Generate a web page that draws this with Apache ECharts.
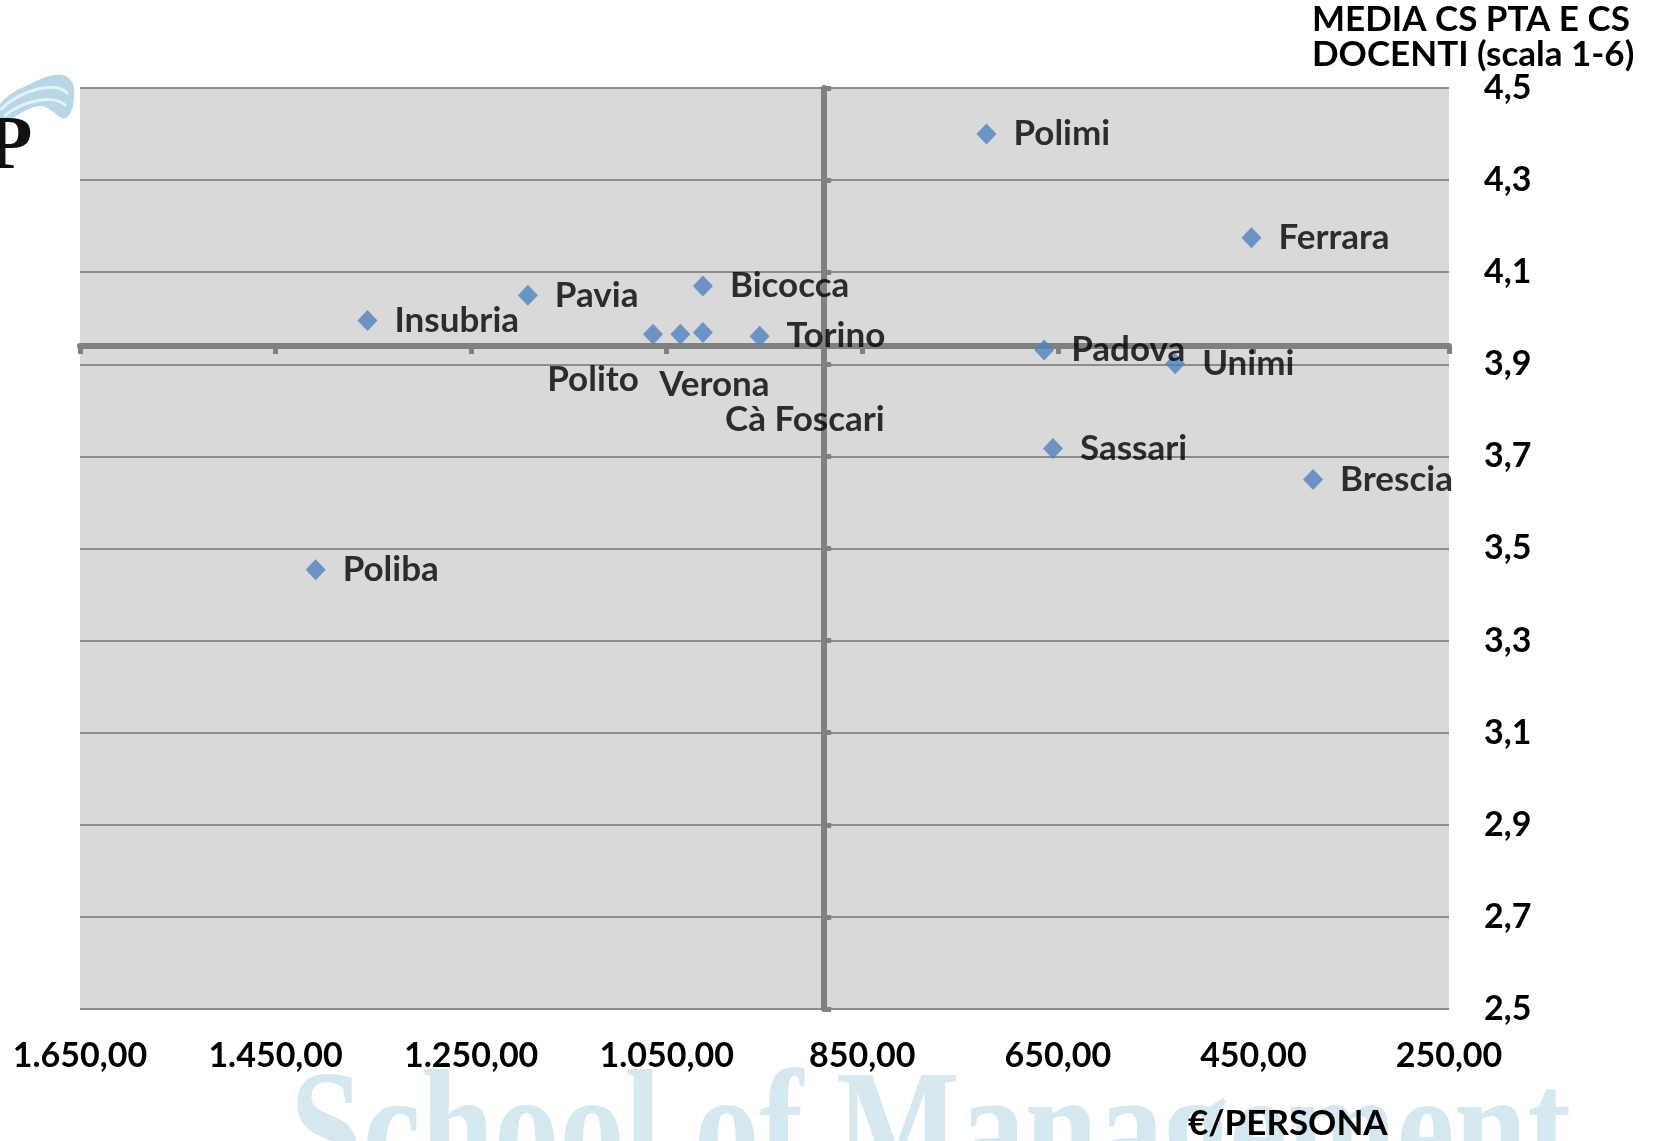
<!DOCTYPE html>
<html>
<head>
<meta charset="utf-8">
<title>Costo per persona vs customer satisfaction</title>
<script src="https://cdn.jsdelivr.net/npm/echarts@6/dist/echarts.min.js"></script>
<style>
html, body { margin: 0; padding: 0; background: #fff; }
#chart { width: 1663px; height: 1141px; }
</style>
</head>
<body>
<div id="chart"></div>
<script>
// dati
var atenei = ['Polimi', 'Ferrara', 'Bicocca', 'Pavia', 'Insubria', 'Polito', 'Verona',
	'Cà Foscari', 'Torino', 'Padova', 'Unimi', 'Sassari', 'Brescia', 'Poliba'];
var costoPersona = [723, 452, 1013, 1192, 1356, 1064, 1036, 1013, 955, 664, 530, 655, 389, 1409];
var mediaCS = [4.40, 4.175, 4.07, 4.05, 3.995, 3.965, 3.965, 3.969, 3.961, 3.931, 3.901, 3.717, 3.650, 3.454];

var xTicks = [1650, 1450, 1250, 1050, 850, 650, 450, 250];
var yTicks = [2.5, 2.7, 2.9, 3.1, 3.3, 3.5, 3.7, 3.9, 4.1, 4.3, 4.5];

// dove si incrociano gli assi (medie)
var crossCosto = 889;
var crossMedia = 3.94;

// etichette spostate a mano come nella slide
var labelShift = {
	'Polito': [-60, 45],
	'Verona': [34, 50],
	'Cà Foscari': [102, 87]
};

var FONT = 'Lato';
var axisGrey = '#808080';

function fmtEuro(v) {
	var p = v.toFixed(2).split('.');
	return p[0].replace(/\B(?=(\d{3})+(?!\d))/g, '.') + ',' + p[1];
}

function fmtMedia(v) {
	return v.toFixed(1).replace('.', ',');
}

var data = [];
for (var i = 0; i < atenei.length; i++) {
	var item = {
		name: atenei[i],
		value: [costoPersona[i], mediaCS[i]]
	};
	if (labelShift[atenei[i]]) {
		item.label = {
			position: 'inside',
			offset: labelShift[atenei[i]],
			align: 'center',
			verticalAlign: 'middle'
		};
	}
	data.push(item);
}

var myChart = echarts.init(document.getElementById('chart'));

var option = {
	backgroundColor: '#fff',
	animation: false,
	grid: {
		left: 80,
		right: 214,
		top: 88,
		bottom: 132,
		show: true,
		backgroundColor: '#d9d9d9',
		borderWidth: 0
	},
	xAxis: [{
			// asse con le etichette in basso
			type: 'value',
			inverse: true,
			min: 250,
			max: 1650,
			position: 'bottom',
			axisLine: { show: false, onZero: false },
			axisTick: { show: false, customValues: xTicks },
			axisLabel: {
				customValues: xTicks,
				formatter: fmtEuro,
				margin: 30,
				color: '#000',
				fontFamily: FONT,
				fontWeight: 'bold',
				fontSize: 34
			},
			splitLine: { show: false }
		},
		{
			// linea orizzontale che incrocia a crossMedia
			type: 'value',
			inverse: true,
			min: 250,
			max: 1650,
			position: 'bottom',
			z: 1,
			axisLine: {
				show: true,
				onZero: true,
				onZeroAxisIndex: 1,
				lineStyle: { color: axisGrey, width: 6 }
			},
			axisTick: {
				show: true,
				customValues: xTicks,
				length: 8,
				lineStyle: { color: axisGrey, width: 5 }
			},
			axisLabel: { show: false },
			splitLine: { show: false }
		},
		{
			// ausiliario: lo zero cade su crossCosto
			type: 'value',
			inverse: true,
			min: 250 - crossCosto,
			max: 1650 - crossCosto,
			show: false
		}
	],
	yAxis: [{
			type: 'value',
			min: 2.5,
			max: 4.5,
			position: 'right',
			axisLine: { show: false, onZero: false },
			axisTick: { show: false, customValues: yTicks },
			axisLabel: {
				customValues: yTicks,
				formatter: fmtMedia,
				margin: 35,
				color: '#000',
				fontFamily: FONT,
				fontWeight: 'bold',
				fontSize: 34
			},
			splitLine: {
				show: true,
				lineStyle: { color: '#8c8c8c', width: 2 }
			}
		},
		{
			// ausiliario: lo zero cade su crossMedia
			type: 'value',
			min: 2.5 - crossMedia,
			max: 4.5 - crossMedia,
			show: false
		},
		{
			// linea verticale che incrocia a crossCosto
			type: 'value',
			min: 2.5,
			max: 4.5,
			position: 'right',
			z: 1,
			axisLine: {
				show: true,
				onZero: true,
				onZeroAxisIndex: 2,
				lineStyle: { color: axisGrey, width: 6 }
			},
			axisTick: {
				show: true,
				customValues: yTicks,
				length: 7,
				lineStyle: { color: axisGrey, width: 5 }
			},
			axisLabel: { show: false },
			splitLine: { show: false }
		}
	],
	graphic: [{
			// scritta di sfondo della slide
			type: 'text',
			z: -10,
			x: 290,
			y: 1140,
			scaleY: 1.25,
			style: {
				text: 'School of Management',
				x: 0,
				y: 0,
				verticalAlign: 'middle',
				fill: '#d6e8ef',
				fontFamily: 'Liberation Serif',
				fontWeight: 'bold',
				fontSize: 131
			}
		},
		{
			// logo in alto a sinistra
			type: 'polygon',
			z: -10,
			shape: {
				points: [[0, 104], [30, 84], [62, 75], [74, 88], [66, 118], [40, 106], [0, 122]],
				smooth: 0.4
			},
			style: { fill: '#b7d7e6' }
		},
		{
			type: 'bezierCurve',
			z: -9,
			shape: { x1: 0, y1: 110, x2: 68, y2: 94, cpx1: 20, cpy1: 90, cpx2: 56, cpy2: 80 },
			style: { stroke: '#e4f1f7', lineWidth: 3, fill: null }
		},
		{
			type: 'bezierCurve',
			z: -9,
			shape: { x1: 4, y1: 116, x2: 66, y2: 106, cpx1: 24, cpy1: 100, cpx2: 54, cpy2: 94 },
			style: { stroke: '#e4f1f7', lineWidth: 3, fill: null }
		},
		{
			type: 'text',
			z: -5,
			style: {
				text: 'P',
				x: -14,
				y: 148,
				verticalAlign: 'middle',
				fill: '#111',
				fontFamily: 'Liberation Serif',
				fontWeight: 'bold',
				fontSize: 76
			}
		},
		{
			type: 'text',
			style: {
				text: 'MEDIA CS PTA E CS\nDOCENTI (scala 1-6)',
				x: 1312,
				y: 2,
				lineHeight: 35,
				fill: '#000',
				fontFamily: FONT,
				fontWeight: 'bold',
				fontSize: 35
			}
		},
		{
			type: 'text',
			style: {
				text: '€/PERSONA',
				x: 1188,
				y: 1124,
				verticalAlign: 'middle',
				fill: '#000',
				fontFamily: FONT,
				fontWeight: 'bold',
				fontSize: 35
			}
		}
	],
	series: [{
		type: 'scatter',
		xAxisIndex: 0,
		yAxisIndex: 0,
		symbol: 'diamond',
		symbolSize: [20, 21],
		itemStyle: { color: '#4f81bd' },
		label: {
			show: true,
			position: 'right',
			distance: 17,
			formatter: '{b}',
			color: '#000',
			fontFamily: FONT,
			fontWeight: 'bold',
			fontSize: 35
		},
		data: data
	}]
};

myChart.setOption(option);
</script>
</body>
</html>
